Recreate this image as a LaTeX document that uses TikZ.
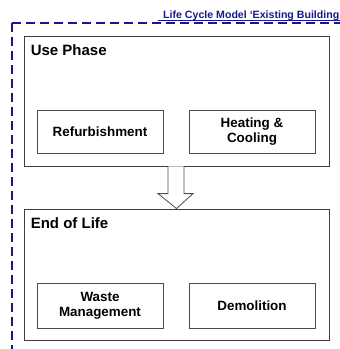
\documentclass[tikz,border=0pt]{standalone}
\usepackage{fontspec}
\setmainfont{Liberation Sans}
\usetikzlibrary{calc}
\definecolor{navy}{RGB}{24,24,140}

\begin{document}
\begin{tikzpicture}[x=1pt,y=1pt,
	phase/.style={draw=black!75,line width=0.8pt,minimum width=305pt,inner sep=0pt},
	part/.style={draw=black!70,line width=0.8pt,minimum width=126pt,inner sep=0pt,align=center,font=\fontsize{13.4}{15}\selectfont\bfseries},
	head/.style={anchor=base west,inner sep=0pt,font=\fontsize{15}{17}\selectfont\bfseries}]
	\useasboundingbox (0,0) rectangle (340,-349);
	\node[anchor=base east,inner sep=0pt,text=navy,font=\fontsize{10.6}{12}\selectfont\bfseries] (title) at (339.5,-18) {Life Cycle Model ‘Existing Building};
	\draw[navy,line width=0.8pt] ([xshift=-5pt,yshift=-2.5pt]title.base west) -- (340,-20.5);
	\coordinate (corner) at (11.5,-23);
	\draw[navy,line width=2pt,dash pattern=on 9pt off 5pt] (corner) -- (340,-23);
	\draw[navy,line width=2pt,dash pattern=on 9pt off 5pt] (corner) -- (11.5,-349);
	\node[phase,minimum height=130pt] (use) at (176.5,-101) {};
	\node[head] (usehead) at ([xshift=7pt,yshift=-19.5pt]use.north west) {Use Phase};
	\node[part,minimum height=43pt] (refurb) at (100,-131.5) {Refurbishment};
	\node[part,minimum height=43pt] (heat) at (252,-131.5) {Heating \&\\Cooling};
	\node[phase,minimum height=131pt] (eol) at (176.5,-274.5) {};
	\node[head] (eolhead) at ([xshift=7pt,yshift=-20pt]eol.north west) {End of Life};
	\node[part,minimum height=45pt] (waste) at (100,-305.5) {Waste\\Management};
	\node[part,minimum height=45pt] (demol) at (252,-305.5) {Demolition};
	\draw[black!70,fill=white,line width=0.8pt,line join=miter]
		($(use.south)+(-8.5,0)$) -- ($(eol.north)+(-8.5,15)$) -- ($(eol.north)+(-18.5,15)$)
		-- (eol.north) -- ($(eol.north)+(16.5,15)$) -- ($(eol.north)+(7.5,15)$)
		-- ($(use.south)+(7.5,0)$);
\end{tikzpicture}
\end{document}
